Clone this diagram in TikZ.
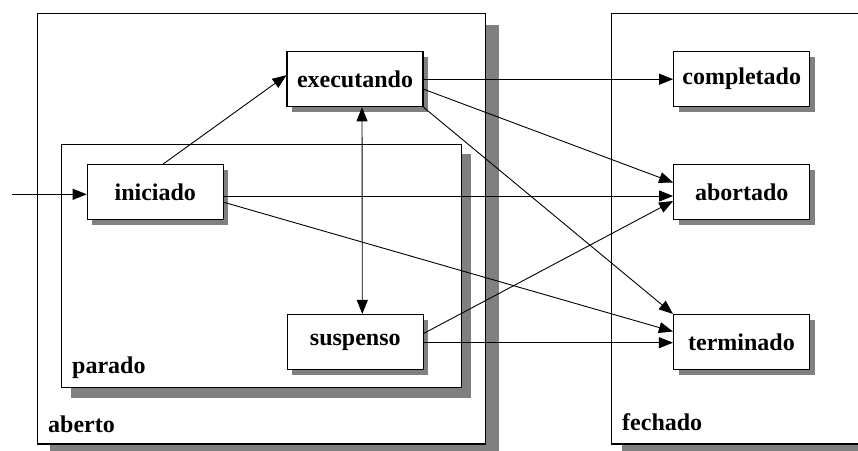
\documentclass[tikz,border=0pt]{standalone}
\usepackage{fontspec}
\setmainfont{Liberation Serif}
\usetikzlibrary{arrows.meta,shadows}
\definecolor{shadowgray}{HTML}{808080}
\begin{document}
\begin{tikzpicture}[x=1pt,y=-1pt,
  font=\fontsize{24}{28}\selectfont\bfseries,
  region/.style={draw=black,line width=1.2pt,fill=white},
  shade/.style={fill=shadowgray,draw=none},
  state/.style={draw=black,line width=1.2pt,fill=white,
    minimum width=136pt,minimum height=55pt,inner sep=0pt,
    drop shadow={shadow xshift=5pt,shadow yshift=-5pt,fill=shadowgray,opacity=1}},
  tag/.style={anchor=base west,inner sep=0pt},
  tip/.tip={Triangle[length=14pt,width=11pt]},
  flow/.style={line width=0.9pt,-tip},
  both/.style={line width=0.9pt,tip-tip}]
\useasboundingbox (0,0) rectangle (858,450);

% outer regions: open and closed
\fill[shade] (50,25) rectangle (498.5,457);
\draw[region] (37.7,13.3) rectangle (485.7,444);
\fill[shade] (622,25) rectangle (880,457);
\draw[region] (611.3,13.3) rectangle (870,444);

% inner region: stopped
\fill[shade] (70.5,154) rectangle (470.5,397.5);
\draw[region] (61.7,144.3) rectangle (461.7,387.7);

\node[tag] (lab-aberto) at (48,432.5) {aberto};
\node[tag] (lab-parado) at (72,373.5) {parado};
\node[tag] (lab-fechado) at (622,430) {fechado};

% states
\node[state] (exec) at (355,79.2) {executando};
\node[state] (ini) at (155.3,192) {iniciado};
\node[state] (susp) at (355.3,342) {suspenso};
\node[state] (comp) at (741.7,79.2) {completado};
\node[state] (abor) at (741.7,192) {abortado};
\node[state] (term) at (741.5,342) {terminado};

% transitions
\coordinate (start) at (12,194.3);
\draw[flow] (start) -- ([yshift=-2.3pt]ini.west);
\draw[flow] ([xshift=8pt]ini.north) -- ([yshift=4pt]exec.west);
\draw[both] ([xshift=7pt]exec.south) -- ([xshift=7pt]susp.north);
\draw[flow] (exec.east) -- (comp.west);
\draw[flow] ([yshift=-10pt]exec.east) -- ([yshift=9.5pt]abor.west);
\draw[flow] (exec.south east) -- (term.north west);
\draw[flow] ([yshift=-4pt]ini.east) -- ([yshift=-4pt]abor.west);
\draw[flow] ([yshift=-10.3pt]ini.east) -- ([yshift=10.5pt]term.west);
\draw[flow] ([yshift=8.7pt]susp.east) -- ([yshift=-9pt]abor.west);
\draw[flow] ([yshift=-0.7pt]susp.east) -- ([yshift=-0.7pt]term.west);
\end{tikzpicture}
\end{document}
